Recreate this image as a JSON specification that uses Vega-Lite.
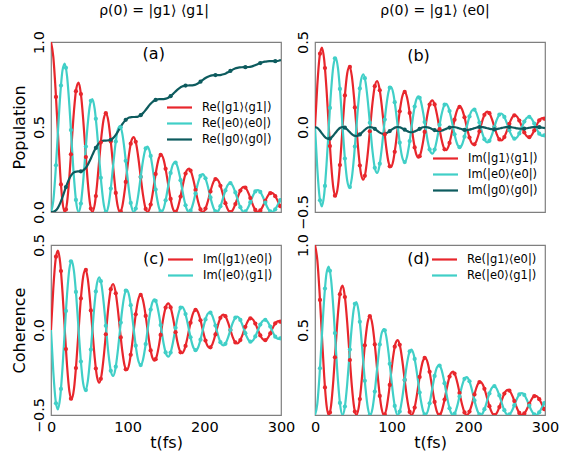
{
"$schema":"https://vega.github.io/schema/vega-lite/v6.json",
"padding":{"left":10,"top":3,"right":5,"bottom":2},
"datasets":{
"curve":[
{"t":0,"r":1,"c":0,"g":0,"ir":0,"ic":0,"ig":0},
{"t":3,"r":0.912,"c":0.0655,"g":0.001,"ir":0.2444,"ic":-0.2444,"ig":-0.0052},
{"t":6,"r":0.7167,"c":0.2389,"g":0.0078,"ir":0.4138,"ic":-0.4138,"ig":-0.0191},
{"t":9,"r":0.467,"c":0.467,"g":0.0245,"ir":0.467,"ic":-0.467,"ig":-0.0374},
{"t":12,"r":0.2283,"c":0.6848,"g":0.0519,"ir":0.3954,"ic":-0.3954,"ig":-0.0548},
{"t":15,"r":0.0598,"c":0.8328,"g":0.0878,"ir":0.2231,"ic":-0.2231,"ig":-0.0666},
{"t":18,"r":0,"c":0.8725,"g":0.1275,"ir":0,"ic":0,"ig":-0.0698},
{"t":21,"r":0.0571,"c":0.7958,"g":0.1654,"ir":-0.2132,"ic":0.2132,"ig":-0.0637},
{"t":24,"r":0.2084,"c":0.6253,"g":0.197,"ir":-0.361,"ic":0.361,"ig":-0.05},
{"t":27,"r":0.4075,"c":0.4075,"g":0.2196,"ir":-0.4075,"ic":0.4075,"ig":-0.0326},
{"t":30,"r":0.5975,"c":0.1992,"g":0.2327,"ir":-0.345,"ic":0.345,"ig":-0.0159},
{"t":33,"r":0.7266,"c":0.0522,"g":0.2379,"ir":-0.1947,"ic":0.1947,"ig":-0.0042},
{"t":36,"r":0.7613,"c":0,"g":0.2387,"ir":0,"ic":0,"ig":0},
{"t":39,"r":0.6943,"c":0.0499,"g":0.2395,"ir":0.186,"ic":-0.186,"ig":-0.004},
{"t":42,"r":0.5456,"c":0.1819,"g":0.2447,"ir":0.315,"ic":-0.315,"ig":-0.0146},
{"t":45,"r":0.3556,"c":0.3556,"g":0.2573,"ir":0.3556,"ic":-0.3556,"ig":-0.0284},
{"t":48,"r":0.1738,"c":0.5214,"g":0.2782,"ir":0.301,"ic":-0.301,"ig":-0.0417},
{"t":51,"r":0.0455,"c":0.634,"g":0.3056,"ir":0.1699,"ic":-0.1699,"ig":-0.0507},
{"t":54,"r":0,"c":0.6643,"g":0.3358,"ir":0,"ic":0,"ig":-0.0531},
{"t":57,"r":0.0435,"c":0.6058,"g":0.3646,"ir":-0.1623,"ic":0.1623,"ig":-0.0485},
{"t":60,"r":0.1587,"c":0.476,"g":0.3887,"ir":-0.2748,"ic":0.2748,"ig":-0.0381},
{"t":63,"r":0.3102,"c":0.3102,"g":0.4059,"ir":-0.3102,"ic":0.3102,"ig":-0.0248},
{"t":66,"r":0.4549,"c":0.1516,"g":0.4158,"ir":-0.2626,"ic":0.2626,"ig":-0.0121},
{"t":69,"r":0.5532,"c":0.0397,"g":0.4198,"ir":-0.1482,"ic":0.1482,"ig":-0.0032},
{"t":72,"r":0.5796,"c":0,"g":0.4204,"ir":0,"ic":0,"ig":0},
{"t":75,"r":0.5286,"c":0.038,"g":0.421,"ir":0.1416,"ic":-0.1416,"ig":-0.003},
{"t":78,"r":0.4154,"c":0.1385,"g":0.425,"ir":0.2398,"ic":-0.2398,"ig":-0.0111},
{"t":81,"r":0.2707,"c":0.2707,"g":0.4346,"ir":0.2707,"ic":-0.2707,"ig":-0.0217},
{"t":84,"r":0.1323,"c":0.3969,"g":0.4505,"ir":0.2292,"ic":-0.2292,"ig":-0.0318},
{"t":87,"r":0.0347,"c":0.4826,"g":0.4713,"ir":0.1293,"ic":-0.1293,"ig":-0.0386},
{"t":90,"r":0,"c":0.5057,"g":0.4943,"ir":0,"ic":0,"ig":-0.0405},
{"t":93,"r":0.0331,"c":0.4612,"g":0.5163,"ir":-0.1236,"ic":0.1236,"ig":-0.0369},
{"t":96,"r":0.1208,"c":0.3624,"g":0.5346,"ir":-0.2092,"ic":0.2092,"ig":-0.029},
{"t":99,"r":0.2362,"c":0.2362,"g":0.5477,"ir":-0.2362,"ic":0.2362,"ig":-0.0189},
{"t":102,"r":0.3463,"c":0.1154,"g":0.5553,"ir":-0.1999,"ic":0.1999,"ig":-0.0092},
{"t":105,"r":0.4211,"c":0.0302,"g":0.5583,"ir":-0.1128,"ic":0.1128,"ig":-0.0024},
{"t":108,"r":0.4412,"c":0,"g":0.5588,"ir":0,"ic":0,"ig":0},
{"t":111,"r":0.4024,"c":0.0289,"g":0.5592,"ir":0.1078,"ic":-0.1078,"ig":-0.0023},
{"t":114,"r":0.3162,"c":0.1054,"g":0.5622,"ir":0.1826,"ic":-0.1826,"ig":-0.0084},
{"t":117,"r":0.2061,"c":0.2061,"g":0.5696,"ir":0.2061,"ic":-0.2061,"ig":-0.0165},
{"t":120,"r":0.1007,"c":0.3022,"g":0.5817,"ir":0.1744,"ic":-0.1744,"ig":-0.0242},
{"t":123,"r":0.0264,"c":0.3674,"g":0.5975,"ir":0.0985,"ic":-0.0985,"ig":-0.0294},
{"t":126,"r":0,"c":0.385,"g":0.615,"ir":0,"ic":0,"ig":-0.0308},
{"t":129,"r":0.0252,"c":0.3511,"g":0.6318,"ir":-0.0941,"ic":0.0941,"ig":-0.0281},
{"t":132,"r":0.092,"c":0.2759,"g":0.6457,"ir":-0.1593,"ic":0.1593,"ig":-0.0221},
{"t":135,"r":0.1798,"c":0.1798,"g":0.6557,"ir":-0.1798,"ic":0.1798,"ig":-0.0144},
{"t":138,"r":0.2636,"c":0.0879,"g":0.6614,"ir":-0.1522,"ic":0.1522,"ig":-0.007},
{"t":141,"r":0.3206,"c":0.023,"g":0.6637,"ir":-0.0859,"ic":0.0859,"ig":-0.0018},
{"t":144,"r":0.3359,"c":0,"g":0.6641,"ir":0,"ic":0,"ig":0},
{"t":147,"r":0.3064,"c":0.022,"g":0.6644,"ir":0.0821,"ic":-0.0821,"ig":-0.0018},
{"t":150,"r":0.2407,"c":0.0802,"g":0.6667,"ir":0.139,"ic":-0.139,"ig":-0.0064},
{"t":153,"r":0.1569,"c":0.1569,"g":0.6723,"ir":0.1569,"ic":-0.1569,"ig":-0.0126},
{"t":156,"r":0.0767,"c":0.23,"g":0.6815,"ir":0.1328,"ic":-0.1328,"ig":-0.0184},
{"t":159,"r":0.0201,"c":0.2797,"g":0.6936,"ir":0.075,"ic":-0.075,"ig":-0.0224},
{"t":162,"r":0,"c":0.2931,"g":0.7069,"ir":0,"ic":0,"ig":-0.0234},
{"t":165,"r":0.0192,"c":0.2673,"g":0.7196,"ir":-0.0716,"ic":0.0716,"ig":-0.0214},
{"t":168,"r":0.07,"c":0.21,"g":0.7303,"ir":-0.1213,"ic":0.1213,"ig":-0.0168},
{"t":171,"r":0.1369,"c":0.1369,"g":0.7379,"ir":-0.1369,"ic":0.1369,"ig":-0.011},
{"t":174,"r":0.2007,"c":0.0669,"g":0.7422,"ir":-0.1159,"ic":0.1159,"ig":-0.0054},
{"t":177,"r":0.2441,"c":0.0175,"g":0.744,"ir":-0.0654,"ic":0.0654,"ig":-0.0014},
{"t":180,"r":0.2557,"c":0,"g":0.7443,"ir":0,"ic":0,"ig":0},
{"t":183,"r":0.2332,"c":0.0167,"g":0.7445,"ir":0.0625,"ic":-0.0625,"ig":-0.0013},
{"t":186,"r":0.1833,"c":0.0611,"g":0.7463,"ir":0.1058,"ic":-0.1058,"ig":-0.0049},
{"t":189,"r":0.1194,"c":0.1194,"g":0.7505,"ir":0.1194,"ic":-0.1194,"ig":-0.0096},
{"t":192,"r":0.0584,"c":0.1751,"g":0.7576,"ir":0.1011,"ic":-0.1011,"ig":-0.014},
{"t":195,"r":0.0153,"c":0.213,"g":0.7667,"ir":0.0571,"ic":-0.0571,"ig":-0.017},
{"t":198,"r":0,"c":0.2231,"g":0.7769,"ir":0,"ic":0,"ig":-0.0178},
{"t":201,"r":0.0146,"c":0.2035,"g":0.7866,"ir":-0.0545,"ic":0.0545,"ig":-0.0163},
{"t":204,"r":0.0533,"c":0.1599,"g":0.7947,"ir":-0.0923,"ic":0.0923,"ig":-0.0128},
{"t":207,"r":0.1042,"c":0.1042,"g":0.8004,"ir":-0.1042,"ic":0.1042,"ig":-0.0083},
{"t":210,"r":0.1528,"c":0.0509,"g":0.8038,"ir":-0.0882,"ic":0.0882,"ig":-0.0041},
{"t":213,"r":0.1858,"c":0.0133,"g":0.8051,"ir":-0.0498,"ic":0.0498,"ig":-0.0011},
{"t":216,"r":0.1947,"c":0,"g":0.8053,"ir":0,"ic":0,"ig":0},
{"t":219,"r":0.1776,"c":0.0128,"g":0.8055,"ir":0.0476,"ic":-0.0476,"ig":-0.001},
{"t":222,"r":0.1395,"c":0.0465,"g":0.8068,"ir":0.0806,"ic":-0.0806,"ig":-0.0037},
{"t":225,"r":0.0909,"c":0.0909,"g":0.8101,"ir":0.0909,"ic":-0.0909,"ig":-0.0073},
{"t":228,"r":0.0444,"c":0.1333,"g":0.8154,"ir":0.077,"ic":-0.077,"ig":-0.0107},
{"t":231,"r":0.0116,"c":0.1621,"g":0.8224,"ir":0.0434,"ic":-0.0434,"ig":-0.013},
{"t":234,"r":0,"c":0.1699,"g":0.8301,"ir":0,"ic":0,"ig":-0.0136},
{"t":237,"r":0.0111,"c":0.1549,"g":0.8375,"ir":-0.0415,"ic":0.0415,"ig":-0.0124},
{"t":240,"r":0.0406,"c":0.1217,"g":0.8437,"ir":-0.0703,"ic":0.0703,"ig":-0.0097},
{"t":243,"r":0.0793,"c":0.0793,"g":0.8481,"ir":-0.0793,"ic":0.0793,"ig":-0.0063},
{"t":246,"r":0.1163,"c":0.0388,"g":0.8506,"ir":-0.0672,"ic":0.0672,"ig":-0.0031},
{"t":249,"r":0.1415,"c":0.0102,"g":0.8516,"ir":-0.0379,"ic":0.0379,"ig":-0.0008},
{"t":252,"r":0.1482,"c":0,"g":0.8518,"ir":0,"ic":0,"ig":0},
{"t":255,"r":0.1352,"c":0.0097,"g":0.852,"ir":0.0362,"ic":-0.0362,"ig":-0.0008},
{"t":258,"r":0.1062,"c":0.0354,"g":0.853,"ir":0.0613,"ic":-0.0613,"ig":-0.0028},
{"t":261,"r":0.0692,"c":0.0692,"g":0.8554,"ir":0.0692,"ic":-0.0692,"ig":-0.0055},
{"t":264,"r":0.0338,"c":0.1015,"g":0.8595,"ir":0.0586,"ic":-0.0586,"ig":-0.0081},
{"t":267,"r":0.0089,"c":0.1234,"g":0.8648,"ir":0.0331,"ic":-0.0331,"ig":-0.0099},
{"t":270,"r":0,"c":0.1293,"g":0.8707,"ir":0,"ic":0,"ig":-0.0103},
{"t":273,"r":0.0085,"c":0.118,"g":0.8763,"ir":-0.0316,"ic":0.0316,"ig":-0.0094},
{"t":276,"r":0.0309,"c":0.0927,"g":0.881,"ir":-0.0535,"ic":0.0535,"ig":-0.0074},
{"t":279,"r":0.0604,"c":0.0604,"g":0.8843,"ir":-0.0604,"ic":0.0604,"ig":-0.0048},
{"t":282,"r":0.0886,"c":0.0295,"g":0.8863,"ir":-0.0511,"ic":0.0511,"ig":-0.0024},
{"t":285,"r":0.1077,"c":0.0077,"g":0.887,"ir":-0.0289,"ic":0.0289,"ig":-0.0006},
{"t":288,"r":0.1128,"c":0,"g":0.8872,"ir":0,"ic":0,"ig":0},
{"t":291,"r":0.1029,"c":0.0074,"g":0.8873,"ir":0.0276,"ic":-0.0276,"ig":-0.0006},
{"t":294,"r":0.0809,"c":0.027,"g":0.888,"ir":0.0467,"ic":-0.0467,"ig":-0.0022},
{"t":297,"r":0.0527,"c":0.0527,"g":0.8899,"ir":0.0527,"ic":-0.0527,"ig":-0.0042},
{"t":300,"r":0.0258,"c":0.0773,"g":0.893,"ir":0.0446,"ic":-0.0446,"ig":-0.0062}
],
"marks":[
{"t":6.5,"r":0.677,"c":0.275,"ir":0.431,"ic":-0.431},
{"t":13,"r":0.162,"c":0.744,"ir":0.347,"ic":-0.347},
{"t":19.5,"r":0.015,"c":0.848,"ir":-0.112,"ic":0.112,"g":0.147,"ig":-0.068},
{"t":26,"r":0.339,"c":0.482,"ir":-0.404,"ic":0.404},
{"t":32.5,"r":0.711,"c":0.071,"ir":-0.224,"ic":0.224},
{"t":39,"r":0.694,"c":0.05,"ir":0.186,"ic":-0.186,"g":0.2395,"ig":-0.004},
{"t":45.5,"r":0.323,"c":0.385,"ir":0.353,"ic":-0.353},
{"t":52,"r":0.02,"c":0.654,"ir":0.115,"ic":-0.115},
{"t":58.5,"r":0.094,"c":0.548,"ir":-0.227,"ic":0.227,"g":0.377,"ig":-0.044},
{"t":65,"r":0.41,"c":0.201,"ir":-0.287,"ic":0.287},
{"t":71.5,"r":0.581,"c":0.001,"ir":-0.025,"ic":0.025},
{"t":78,"r":0.415,"c":0.138,"ir":0.24,"ic":-0.24,"g":0.425,"ig":-0.011},
{"t":84.5,"r":0.112,"c":0.415,"ir":0.216,"ic":-0.216},
{"t":91,"r":0.004,"c":0.498,"ir":-0.044,"ic":0.044},
{"t":97.5,"r":0.177,"c":0.301,"ir":-0.231,"ic":0.231,"g":0.542,"ig":-0.024},
{"t":104,"r":0.402,"c":0.053,"ir":-0.146,"ic":0.146},
{"t":110.5,"r":0.413,"c":0.02,"ir":0.092,"ic":-0.092},
{"t":117,"r":0.206,"c":0.206,"ir":0.206,"ic":-0.206,"g":0.5696,"ig":-0.016},
{"t":123.5,"r":0.018,"c":0.374,"ir":0.083,"ic":-0.083},
{"t":130,"r":0.044,"c":0.33,"ir":-0.12,"ic":0.12},
{"t":136.5,"r":0.224,"c":0.132,"ir":-0.172,"ic":0.172,"g":0.659,"ig":-0.011},
{"t":143,"r":0.336,"c":0.003,"ir":-0.029,"ic":0.029},
{"t":149.5,"r":0.254,"c":0.069,"ir":0.132,"ic":-0.132},
{"t":156,"r":0.077,"c":0.23,"ir":0.133,"ic":-0.133,"g":0.6815,"ig":-0.018},
{"t":162.5,"r":0.001,"c":0.291,"ir":-0.013,"ic":0.013},
{"t":169,"r":0.091,"c":0.187,"ir":-0.131,"ic":0.131},
{"t":175.5,"r":0.226,"c":0.039,"ir":-0.094,"ic":0.094,"g":0.7434,"ig":-0.003},
{"t":182,"r":0.244,"c":0.008,"ir":0.043,"ic":-0.043},
{"t":188.5,"r":0.13,"c":0.109,"ir":0.119,"ic":-0.119},
{"t":195,"r":0.015,"c":0.213,"ir":0.057,"ic":-0.057,"g":0.7667,"ig":-0.017},
{"t":201.5,"r":0.02,"c":0.198,"ir":-0.062,"ic":0.062},
{"t":208,"r":0.121,"c":0.086,"ir":-0.102,"ic":0.102},
{"t":214.5,"r":0.194,"c":0.003,"ir":-0.026,"ic":0.026,"g":0.8053,"ig":0},
{"t":221,"r":0.154,"c":0.034,"ir":0.072,"ic":-0.072},
{"t":227.5,"r":0.052,"c":0.127,"ir":0.081,"ic":-0.081},
{"t":234,"r":0,"c":0.17,"ir":0,"ic":0,"g":0.8301,"ig":-0.014},
{"t":240.5,"r":0.047,"c":0.115,"ir":-0.073,"ic":0.073},
{"t":247,"r":0.126,"c":0.028,"ir":-0.059,"ic":0.059},
{"t":253.5,"r":0.144,"c":0.003,"ir":0.019,"ic":-0.019,"g":0.8518,"ig":0},
{"t":260,"r":0.082,"c":0.058,"ir":0.069,"ic":-0.069},
{"t":266.5,"r":0.012,"c":0.121,"ir":0.038,"ic":-0.038},
{"t":273,"r":0.009,"c":0.118,"ir":-0.032,"ic":0.032,"g":0.8763,"ig":-0.009},
{"t":279.5,"r":0.065,"c":0.055,"ir":-0.06,"ic":0.06},
{"t":286,"r":0.111,"c":0.004,"ir":-0.02,"ic":0.02},
{"t":292.5,"r":0.093,"c":0.016,"ir":0.039,"ic":-0.039,"g":0.8875,"ig":-0.001},
{"t":299,"r":0.034,"c":0.07,"ir":0.049,"ic":-0.049}
]
},
"columns":2,
"spacing":{"row":33,"column":34},
"bounds":"flush",
"resolve":{"scale":{"color":"independent"}},
"concat":[
{
"width":230,"height":170,
"title":{"text":"ρ(0) = |g1⟩ ⟨g1|","dx":-12},
"layer":[
{"data":{"name":"curve"},"transform":[{"fold":["r","c","g"],"as":["key","val"]}],
"mark":{"type":"line","strokeWidth":2.2,"interpolate":"monotone","clip":true},
"encoding":{
"x":{"field":"t","type":"quantitative","scale":{"domain":[0,300],"nice":false,"zero":false},"axis":null},
"y":{"field":"val","type":"quantitative","scale":{"domain":[0,1],"nice":false},"axis":{"values":[0,0.5,1],"format":".1f","title":"Population"}},
"color":{"field":"key","type":"nominal","sort":null,"scale":{"domain":["r","c","g"],"range":["#e8262c","#40cfc7","#0d5b5e"]},
"legend":{"title":null,"legendX":121,"legendY":58,"labelExpr":"datum.value == 'r' ? 'Re(|g1⟩⟨g1|)' : datum.value == 'c' ? 'Re(|e0⟩⟨e0|)' : 'Re(|g0⟩⟨g0|)'"}}}},
{"data":{"name":"marks"},"transform":[{"fold":["r","c","g"],"as":["key","val"]}],
"mark":{"type":"circle","size":18,"opacity":1,"clip":true},
"encoding":{"x":{"field":"t","type":"quantitative"},"y":{"field":"val","type":"quantitative"},"color":{"field":"key","type":"nominal","legend":null}}},
{"data":{"values":[{}]},"mark":{"type":"text","fontSize":16},
"encoding":{"x":{"datum":134,"type":"quantitative"},"y":{"datum":0.93,"type":"quantitative"},"text":{"value":"(a)"}}}
]
},
{
"width":230,"height":170,
"title":{"text":"ρ(0) = |g1⟩ ⟨e0|","dx":5},
"layer":[
{"data":{"name":"curve"},"transform":[{"fold":["ir","ic","ig"],"as":["key","val"]}],
"mark":{"type":"line","strokeWidth":2.2,"interpolate":"monotone","clip":true},
"encoding":{
"x":{"field":"t","type":"quantitative","scale":{"domain":[0,300],"nice":false,"zero":false},"axis":null},
"y":{"field":"val","type":"quantitative","scale":{"domain":[-0.5,0.5],"nice":false},"axis":{"values":[-0.5,0,0.5],"format":".1f","title":null}},
"color":{"field":"key","type":"nominal","sort":null,"scale":{"domain":["ir","ic","ig"],"range":["#e8262c","#40cfc7","#0d5b5e"]},
"legend":{"title":null,"legendX":123,"legendY":109,"labelExpr":"datum.value == 'ir' ? 'Im(|g1⟩⟨g1|)' : datum.value == 'ic' ? 'Im(|e0⟩⟨e0|)' : 'Im(|g0⟩⟨g0|)'"}}}},
{"data":{"name":"marks"},"transform":[{"fold":["ir","ic","ig"],"as":["key","val"]}],
"mark":{"type":"circle","size":18,"opacity":1,"clip":true},
"encoding":{"x":{"field":"t","type":"quantitative"},"y":{"field":"val","type":"quantitative"},"color":{"field":"key","type":"nominal","legend":null}}},
{"data":{"values":[{}]},"mark":{"type":"text","fontSize":16},
"encoding":{"x":{"datum":135,"type":"quantitative"},"y":{"datum":0.42,"type":"quantitative"},"text":{"value":"(b)"}}}
]
},
{
"width":230,"height":170,
"layer":[
{"data":{"name":"curve"},"transform":[{"fold":["ir","ic"],"as":["key","val"]}],
"mark":{"type":"line","strokeWidth":2.2,"interpolate":"monotone","clip":true},
"encoding":{
"x":{"field":"t","type":"quantitative","scale":{"domain":[0,300],"nice":false,"zero":false},"axis":{"values":[0,100,200,300],"title":"t(fs)"}},
"y":{"field":"val","type":"quantitative","scale":{"domain":[-0.5,0.5],"nice":false},"axis":{"values":[-0.5,0,0.5],"format":".1f","title":"Coherence"}},
"color":{"field":"key","type":"nominal","sort":null,"scale":{"domain":["ir","ic"],"range":["#e8262c","#40cfc7"]},
"legend":{"title":null,"legendX":122,"legendY":7,"labelExpr":"datum.value == 'ir' ? 'Im(|g1⟩⟨e0|)' : 'Im(|e0⟩⟨g1|)'"}}}},
{"data":{"name":"marks"},"transform":[{"fold":["ir","ic"],"as":["key","val"]}],
"mark":{"type":"circle","size":18,"opacity":1,"clip":true},
"encoding":{"x":{"field":"t","type":"quantitative"},"y":{"field":"val","type":"quantitative"},"color":{"field":"key","type":"nominal","legend":null}}},
{"data":{"values":[{}]},"mark":{"type":"text","fontSize":16},
"encoding":{"x":{"datum":134,"type":"quantitative"},"y":{"datum":0.418,"type":"quantitative"},"text":{"value":"(c)"}}}
]
},
{
"width":230,"height":170,
"layer":[
{"data":{"name":"curve"},"transform":[{"fold":["r","c"],"as":["key","val"]}],
"mark":{"type":"line","strokeWidth":2.2,"interpolate":"monotone","clip":true},
"encoding":{
"x":{"field":"t","type":"quantitative","scale":{"domain":[0,300],"nice":false,"zero":false},"axis":{"values":[0,100,200,300],"title":"t(fs)"}},
"y":{"field":"val","type":"quantitative","scale":{"domain":[0,1],"nice":false},"axis":{"values":[0.5,1],"format":".1f","title":null}},
"color":{"field":"key","type":"nominal","sort":null,"scale":{"domain":["r","c"],"range":["#e8262c","#40cfc7"]},
"legend":{"title":null,"legendX":122,"legendY":7,"labelExpr":"datum.value == 'r' ? 'Re(|g1⟩⟨e0|)' : 'Re(|e0⟩⟨g1|)'"}}}},
{"data":{"name":"marks"},"transform":[{"fold":["r","c"],"as":["key","val"]}],
"mark":{"type":"circle","size":18,"opacity":1,"clip":true},
"encoding":{"x":{"field":"t","type":"quantitative"},"y":{"field":"val","type":"quantitative"},"color":{"field":"key","type":"nominal","legend":null}}},
{"data":{"values":[{}]},"mark":{"type":"text","fontSize":16},
"encoding":{"x":{"datum":135,"type":"quantitative"},"y":{"datum":0.918,"type":"quantitative"},"text":{"value":"(d)"}}}
]
}
],
"config":{
"font":"DejaVu Sans",
"view":{"stroke":"#7f7f7f","strokeWidth":1.2},
"axis":{"grid":false,"domain":false,"ticks":false,"labelFontSize":14.5,"labelColor":"#000","titleFontSize":16,"titleFontWeight":"normal","titleColor":"#000","labelPadding":5,"labelFlush":false,"labelOverlap":false,"labelFont":"DejaVu Sans","titleFont":"DejaVu Sans"},
"axisY":{"labelAngle":270,"labelAlign":"center","labelBaseline":"bottom","titlePadding":4},
"axisX":{"titlePadding":1,"labelPadding":5},
"legend":{"orient":"none","symbolType":"M-2,0L2,0","symbolSize":156,"symbolStrokeWidth":2.2,"labelFontSize":11.5,"labelFont":"DejaVu Sans","labelColor":"#000","labelOffset":15,"rowPadding":3,"padding":0},
"title":{"fontSize":14,"fontWeight":"normal","font":"DejaVu Sans","offset":12,"color":"#000"}
}
}
